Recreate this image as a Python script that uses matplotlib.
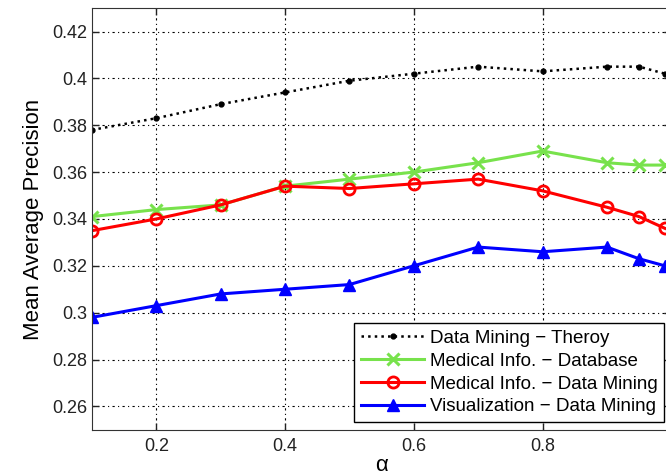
import matplotlib
matplotlib.use('Agg')
import matplotlib.pyplot as plt

# alpha values, last point sits just short of 1.0
alpha = [0.1, 0.2, 0.3, 0.4, 0.5, 0.6, 0.7, 0.8, 0.9, 0.95, 0.99]
dm_theory = [0.378, 0.383, 0.389, 0.394, 0.399, 0.402, 0.405, 0.403, 0.405, 0.405, 0.402]
med_db = [0.341, 0.344, 0.346, 0.354, 0.357, 0.360, 0.364, 0.369, 0.364, 0.363, 0.363]
med_dm = [0.335, 0.340, 0.346, 0.354, 0.353, 0.355, 0.357, 0.352, 0.345, 0.341, 0.336]
vis_dm = [0.298, 0.303, 0.308, 0.310, 0.312, 0.320, 0.328, 0.326, 0.328, 0.323, 0.320]

labels = ['Data Mining \u2212 Theroy', 'Medical Info. \u2212 Database',
          'Medical Info. \u2212 Data Mining', 'Visualization \u2212 Data Mining']
yticks = [0.26, 0.28, 0.3, 0.32, 0.34, 0.36, 0.38, 0.4, 0.42]
xticks = [0.2, 0.4, 0.6, 0.8]

plt.rcParams['font.family'] = ['Liberation Sans', 'DejaVu Sans']
fig = plt.figure(figsize=(6.66, 4.76), dpi=100)
ax = fig.add_axes([0.138, 0.097, 0.870, 0.886])  # right edge runs past the image, as in the original

ax.plot(alpha, dm_theory, color='black', linestyle=':', linewidth=1.8, marker='.', markersize=7, label=labels[0])
ax.plot(alpha, med_db, color='#78E24C', linewidth=2.2, marker='x', markersize=9, markeredgewidth=2.2, label=labels[1])
ax.plot(alpha, med_dm, color='#FF0000', linewidth=2.2, marker='o', markersize=8, markerfacecolor='none',
        markeredgewidth=2, label=labels[2])
ax.plot(alpha, vis_dm, color='#0000FF', linewidth=2.2, marker='^', markersize=9, label=labels[3])

ax.set_xlim(0.1, 1.0)
ax.set_ylim(0.25, 0.43)
ax.set_xticks(xticks)
ax.set_xticklabels(['0.2', '0.4', '0.6', '0.8'])
ax.set_yticks(yticks)
ax.set_yticklabels(['0.26', '0.28', '0.3', '0.32', '0.34', '0.36', '0.38', '0.4', '0.42'])
ax.tick_params(direction='in', top=True, right=True, labelsize=13, length=5, width=1, colors='#222222')
ax.tick_params(axis='x', pad=6)
ax.grid(True, color='black', linestyle=(0, (2, 3, 1, 3)), linewidth=0.8)
for s in ax.spines.values():
    s.set_color('#333333')

ax.set_xlabel('\u03b1', fontsize=16, labelpad=0)
ax.set_ylabel('Mean Average Precision', fontsize=16, labelpad=6)

leg = ax.legend(loc='lower right', bbox_to_anchor=(0.988, 0.019), fontsize=13.5, fancybox=False,
                framealpha=1, edgecolor='black', handlelength=3.4, handletextpad=0.3,
                labelspacing=0.3, borderpad=0.35, borderaxespad=0)
leg.get_frame().set_linewidth(1)

fig.savefig('out.png', dpi=100)
